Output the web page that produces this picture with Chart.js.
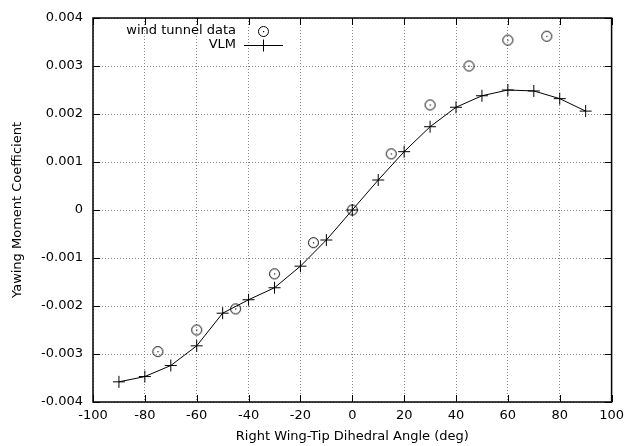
<!DOCTYPE html>
<html>
<head>
<meta charset="utf-8">
<script src="https://cdn.jsdelivr.net/npm/chart.js@4.4.1/dist/chart.umd.min.js"></script>
<style>
  html, body { margin: 0; padding: 0; background: #fff; }
  #wrap { width: 630px; height: 446px; }
</style>
</head>
<body>
<div id="wrap"><canvas id="yawChart" width="630" height="446"></canvas></div>
<script>
// VLM results
const vlmAngles = [-90, -80, -70, -60, -50, -40, -30, -20, -10, 0, 10, 20, 30, 40, 50, 60, 70, 80, 90];
const vlmValues = [-0.00358, -0.00347, -0.00324, -0.00283, -0.00215, -0.00187, -0.00162, -0.00117, -0.000625, 0,
                   0.000625, 0.001215, 0.001735, 0.00214, 0.00238, 0.0025, 0.00248, 0.00232, 0.00206];

// wind tunnel measurements
const windAngles = [-75, -60, -45, -30, -15, 0, 15, 30, 45, 60, 75];
const windValues = [-0.00295, -0.0025, -0.00206, -0.00133, -0.00068, 0, 0.00117, 0.00219, 0.0030, 0.00354, 0.00362];

const xTitle = "Right Wing-Tip Dihedral Angle (deg)";
const yTitle = "Yawing Moment Coefficient";
const FONT = "'DejaVu Sans', sans-serif";

// circle with a dot in the middle, like gnuplot's point type 6/7 mix
function dotCircle() {
    const c = document.createElement("canvas");
    c.width = 13; c.height = 13;
    const g = c.getContext("2d");
    g.strokeStyle = "#000";
    g.lineWidth = 1;
    g.beginPath();
    g.arc(6.5, 6.5, 5, 0, Math.PI * 2);
    g.stroke();
    g.fillStyle = "#000";
    g.fillRect(6, 6, 1.2, 1.2);
    return c;
}
const circleImg = dotCircle();

const framePlugin = {
    id: "frame",
    afterDraw(chart) {
        const ctx = chart.ctx;
        const a = chart.chartArea;
        const xs = chart.scales.x, ys = chart.scales.y;
        ctx.save();
        ctx.strokeStyle = "#000";
        ctx.lineWidth = 1;
        const tl = 7;
        xs.ticks.forEach(t => {
            const px = Math.round(xs.getPixelForValue(t.value)) + 0.5;
            ctx.beginPath();
            ctx.moveTo(px, a.bottom); ctx.lineTo(px, a.bottom - tl);
            ctx.moveTo(px, a.top); ctx.lineTo(px, a.top + tl);
            ctx.stroke();
        });
        ys.ticks.forEach(t => {
            const py = Math.round(ys.getPixelForValue(t.value)) + 0.5;
            ctx.beginPath();
            ctx.moveTo(a.left, py); ctx.lineTo(a.left + tl, py);
            ctx.moveTo(a.right, py); ctx.lineTo(a.right - tl, py);
            ctx.stroke();
        });
        ctx.lineWidth = 1.5;
        ctx.strokeRect(a.left, a.top, a.right - a.left, a.bottom - a.top);

        // legend, text right aligned then sample
        ctx.fillStyle = "#000";
        ctx.font = "13px " + FONT;
        ctx.textAlign = "right";
        ctx.textBaseline = "middle";
        ctx.fillText(chart.data.datasets[0].label, 236, 31);
        ctx.fillText(chart.data.datasets[1].label, 236, 45);
        ctx.drawImage(circleImg, 257, 25);
        ctx.lineWidth = 1;
        ctx.beginPath();
        ctx.moveTo(244, 45.5); ctx.lineTo(283, 45.5);
        ctx.moveTo(263.5, 39.5); ctx.lineTo(263.5, 51.5);
        ctx.stroke();

        // axis titles
        ctx.textAlign = "center";
        ctx.fillText(xTitle, (a.left + a.right) / 2, 437);
        ctx.translate(18, (a.top + a.bottom) / 2);
        ctx.rotate(-Math.PI / 2);
        ctx.fillText(yTitle, 0, 0);
        ctx.restore();
    }
};

new Chart(document.getElementById("yawChart"), {
    type: "scatter",
    data: {
        datasets: [
            {
                label: "wind tunnel data",
                data: windAngles.map((x, i) => ({ x: x, y: windValues[i] })),
                pointStyle: circleImg,
                pointRadius: 6,
                showLine: false
            },
            {
                label: "VLM",
                data: vlmAngles.map((x, i) => ({ x: x, y: vlmValues[i] })),
                showLine: true,
                borderColor: "#000",
                borderWidth: 1,
                pointStyle: "cross",
                pointRadius: 6,
                pointBorderColor: "#000",
                pointBorderWidth: 1,
                tension: 0
            }
        ]
    },
    options: {
        responsive: false,
        animation: false,
        layout: { padding: { top: 18, right: 18, left: 0, bottom: 0 } },
        plugins: {
            legend: { display: false },
            tooltip: { enabled: false }
        },
        scales: {
            x: {
                type: "linear",
                min: -100,
                max: 100,
                afterFit: s => { s.height = 44; },
                ticks: {
                    stepSize: 20,
                    padding: 6,
                    color: "#000",
                    font: { family: FONT, size: 13 }
                },
                grid: { color: "#888", lineWidth: 1, drawTicks: false },
                border: { display: false, dash: [1, 2] }
            },
            y: {
                type: "linear",
                min: -0.004,
                max: 0.004,
                afterFit: s => { s.width = 93; },
                ticks: {
                    stepSize: 0.001,
                    padding: 10,
                    color: "#000",
                    font: { family: FONT, size: 13 },
                    callback: v => {
                        const r = Math.round(v * 1000) / 1000;
                        return r === 0 ? "0" : r.toFixed(3);
                    }
                },
                grid: { color: "#888", lineWidth: 1, drawTicks: false },
                border: { display: false, dash: [1, 2] }
            }
        }
    },
    plugins: [framePlugin]
});
</script>
</body>
</html>
